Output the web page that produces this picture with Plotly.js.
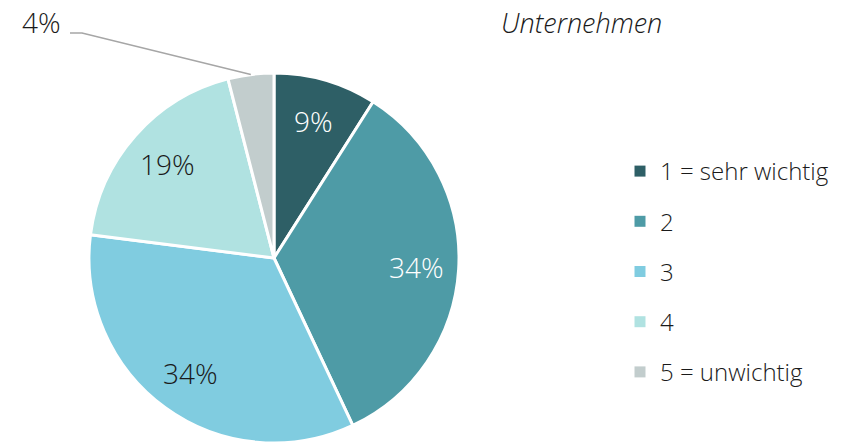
<!DOCTYPE html>
<html><head><meta charset="utf-8">
<script src="https://cdn.plot.ly/plotly-3.0.1.min.js"></script>
<style>html,body{margin:0;padding:0;background:#fff}#c{width:851px;height:443px}</style>
</head><body><div id="c"></div>
<script>
const categories = ["1 = sehr wichtig", "2", "3", "4", "5 = unwichtig"];
const values = [9, 34, 34, 19, 4];
const colors = ["#2e5f66", "#4e9ba6", "#80cce0", "#b0e2e1", "#c2cdcd"];
const textColors = ["#ffffff", "#ffffff", "#1a1a1a", "#1a1a1a", "#1a1a1a"];
const chartTitle = "Unternehmen";

const W = 851, H = 443;
const cx = 274, cy = 258, R = 185;
const dom = {x: [(cx - R) / W, (cx + R) / W], y: [1 - (cy + R) / H, 1 - (cy - R) / H]};
const FONT = "Open Sans, Noto Sans, sans-serif";

const pie = {
  type: "pie", labels: categories, values: values, sort: false, direction: "clockwise", rotation: 0,
  marker: {colors: colors, line: {color: "#ffffff", width: 3}},
  textinfo: "none", domain: dom, showlegend: false, hoverinfo: "label+percent"
};

const legendTraces = categories.map((c, i) => ({
  type: "scatter", mode: "markers", x: [null], y: [null], name: c, legendgroup: "g" + i,
  marker: {symbol: "square", size: 11, color: colors[i]}, showlegend: true, hoverinfo: "skip"
}));

const total = values.reduce((a, b) => a + b, 0);
const px = v => v / W, py = v => 1 - v / H;
const annotations = [];
let cum = 0;
values.forEach((v, i) => {
  const mid = (cum + v / 2) / total * 2 * Math.PI;
  cum += v;
  const pct = Math.round(v / total * 100) + "%";
  if (i < values.length - 1) {
    const r = 0.77 * R;
    annotations.push({xref: "paper", yref: "paper", x: px(cx + r * Math.sin(mid)), y: py(cy - r * Math.cos(mid)),
      xanchor: "center", yanchor: "middle", text: pct, showarrow: false,
      font: {family: FONT, size: 28, weight: 300, color: textColors[i]}});
  } else {
    const ex = cx + R * Math.sin(mid), ey = cy - R * Math.cos(mid);
    annotations.push({xref: "paper", yref: "paper", x: px(63), y: py(22), xanchor: "right", yanchor: "middle",
      text: pct, showarrow: false, font: {family: FONT, size: 28, weight: 300, color: textColors[i]}});
    annotations.leader = `M ${px(70)} ${py(33)} L ${px(82)} ${py(33)} L ${px(ex)} ${py(ey)}`;
  }
});

// chart title as a paper annotation placed fully inside the picture
annotations.push({xref: "paper", yref: "paper", x: px(581), y: py(2), xanchor: "center", yanchor: "top",
  text: "<i>" + chartTitle + "</i>", showarrow: false,
  font: {family: FONT, size: 27, weight: 300, color: "#1a1a1a"}});

const layout = {
  width: W, height: H, margin: {l: 0, r: 0, t: 0, b: 0},
  paper_bgcolor: "#ffffff", plot_bgcolor: "#ffffff",
  font: {family: FONT, color: "#1a1a1a"},
  xaxis: {visible: false}, yaxis: {visible: false},
  legend: {x: 620 / W, xanchor: "left", y: 1 - 149 / H, yanchor: "top", tracegroupgap: 16,
           font: {family: FONT, size: 24, weight: 300, color: "#1a1a1a"}, bgcolor: "rgba(0,0,0,0)"},
  shapes: [{type: "path", xref: "paper", yref: "paper", path: annotations.leader,
            line: {color: "#a6a6a6", width: 1.5}}],
  annotations: annotations
};

Plotly.newPlot("c", [pie].concat(legendTraces), layout, {displayModeBar: false, staticPlot: true});
</script></body></html>
